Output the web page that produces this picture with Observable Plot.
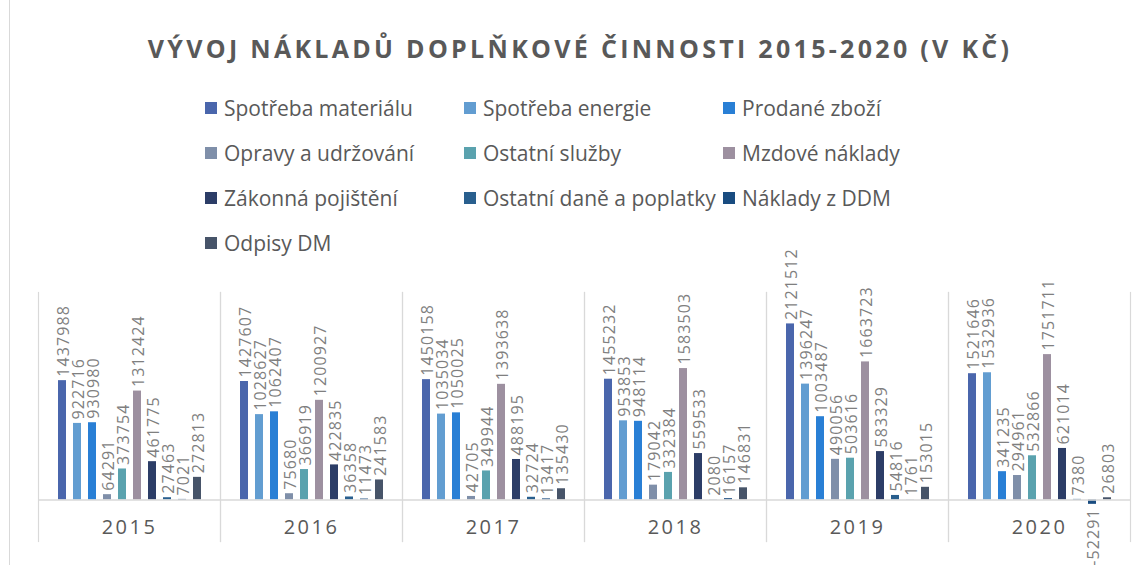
<!DOCTYPE html>
<html>
<head>
<meta charset="utf-8">
<script src="https://cdn.jsdelivr.net/npm/d3@7"></script>
<script src="https://cdn.jsdelivr.net/npm/@observablehq/plot@0.6"></script>
<style>
  html, body { margin: 0; padding: 0; background: #fff; }
  #wrap { position: relative; width: 1146px; height: 565px; overflow: hidden; font-family: "Open Sans", sans-serif; }
  #border { position: absolute; left: 9px; top: 0; width: 0; height: 565px; border-left: 1px solid #d9d9d9; }
  #title { position: absolute; left: 7px; top: 30px; width: 1146px; text-align: center; font-weight: 700; font-size: 25px; letter-spacing: 3.3px; color: #595959; line-height: 36px; }
  #legend { position: absolute; left: 205px; top: 85px; display: grid; grid-template-columns: repeat(3, 259px); grid-auto-rows: 45px; }
  .item { display: flex; align-items: center; font-size: 21px; color: #595959; white-space: nowrap; }
  .sw { width: 12px; height: 12px; margin-right: 7px; flex: none; }
  #chart { position: absolute; left: 0; top: 230px; }
  g[font-size="16"] text { letter-spacing: 1.1px; }
  g[font-size="20"] text { letter-spacing: 2.5px; }
</style>
</head>
<body>
<div id="wrap">
  <div id="border"></div>
  <div id="title">VÝVOJ NÁKLADŮ DOPLŇKOVÉ ČINNOSTI 2015-2020 (V KČ)</div>
  <div id="legend"></div>
  <div id="chart"></div>
</div>
<script>
const years = ["2015", "2016", "2017", "2018", "2019", "2020"];
const series = [
  "Spotřeba materiálu", "Spotřeba energie", "Prodané zboží",
  "Opravy a udržování", "Ostatní služby", "Mzdové náklady",
  "Zákonná pojištění", "Ostatní daně a poplatky", "Náklady z DDM",
  "Odpisy DM"
];
const colors = [
  "#4A66AC", "#629DD1", "#297FD5", "#7F8FA9", "#5AA2AE", "#9D90A0",
  "#2C3D67", "#295F8E", "#194C80", "#475469"
];
const v2015 = [1437988, 922716, 930980, 64291, 373754, 1312424, 461775, 27463, 7021, 272813];
const v2016 = [1427607, 1028627, 1062407, 75680, 366919, 1200927, 422835, 36358, 11473, 241583];
const v2017 = [1450158, 1035034, 1050025, 42705, 349944, 1393638, 488195, 32724, 13417, 135430];
const v2018 = [1455232, 953853, 948114, 179042, 332384, 1583503, 559533, 2080, 16157, 146831];
const v2019 = [2121512, 1396247, 1003487, 490056, 503616, 1663723, 583329, 54816, 1761, 153015];
const v2020 = [1521646, 1532936, 341235, 294961, 532866, 1751711, 621014, 7380, -52291, 26803];
const yearValues = [v2015, v2016, v2017, v2018, v2019, v2020];

const data = [];
years.forEach((yr, i) => {
  series.forEach((s, j) => {
    data.push({year: yr, series: s, value: yearValues[i][j]});
  });
});

// Legend
const legend = document.getElementById("legend");
series.forEach((s, j) => {
  const it = document.createElement("div");
  it.className = "item";
  const sw = document.createElement("span");
  sw.className = "sw";
  sw.style.background = colors[j];
  const tx = document.createElement("span");
  tx.textContent = s;
  it.appendChild(sw);
  it.appendChild(tx);
  legend.appendChild(it);
});

const chart = Plot.plot({
  width: 1146,
  height: 335,
  marginTop: 62,
  marginBottom: 24,
  marginLeft: 38,
  marginRight: 16,
  style: {fontFamily: "Open Sans", background: "transparent"},
  fx: {domain: years, padding: 0, axis: null},
  x: {domain: series, paddingInner: 0.5, paddingOuter: 1.2, axis: null},
  y: {domain: [-500000, 2500000], axis: null},
  color: {domain: series, range: colors},
  marks: [
    Plot.frame({anchor: "left", stroke: "#d9d9d9", strokeWidth: 1.2}),
    Plot.frame({anchor: "right", stroke: "#d9d9d9", strokeWidth: 1.2}),
    Plot.barY(data, {fx: "year", x: "series", y: "value", fill: "series"}),
    Plot.ruleY([0], {stroke: "#d9d9d9", strokeWidth: 1.6}),
    Plot.text(data.filter(d => d.value >= 0), {
      fx: "year", x: "series", y: "value", text: d => String(d.value),
      rotate: -90, textAnchor: "start", dy: -4, dx: 1,
      fill: "#7f7f7f", fontSize: 16
    }),
    Plot.text(data.filter(d => d.value < 0), {
      fx: "year", x: "series", y: "value", text: d => String(d.value),
      rotate: -90, textAnchor: "end", dy: 4, dx: 1,
      fill: "#7f7f7f", fontSize: 16
    }),
    Plot.text(years, {
      fx: d => d, text: d => d, frameAnchor: "bottom", dy: -8,
      fill: "#595959", fontSize: 20
    })
  ]
});
document.getElementById("chart").appendChild(chart);
</script>
</body>
</html>
